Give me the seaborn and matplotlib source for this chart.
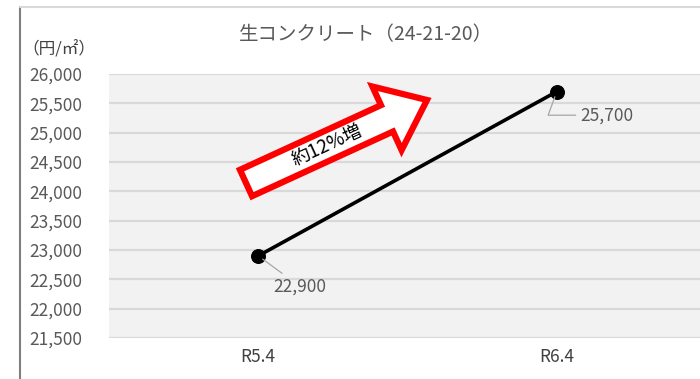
import numpy as np
import pandas as pd
import seaborn as sns
import matplotlib
matplotlib.use("Agg")
import matplotlib.pyplot as plt
import matplotlib.patches as mpatches
import matplotlib.transforms as mtransforms
from matplotlib.lines import Line2D
from matplotlib.ticker import MultipleLocator, FuncFormatter

# データ
periods = ["R5.4", "R6.4"]
prices = [22900, 25700]
title = "生コンクリート（24-21-20）"
unit_label = "（円/㎡）"
arrow_label = "約12%増"
y_min, y_max, y_step = 21500, 26000, 500

sns.set_theme(style="white")
plt.rcParams["font.family"] = ["Noto Sans CJK JP", "DejaVu Sans"]

df = pd.DataFrame({"period": periods, "price": prices})

fig = plt.figure(figsize=(7, 3.79), dpi=100)
ax = fig.add_axes([109 / 700, 1 - 338 / 379, 597 / 700, 264 / 379])
ax.set_facecolor("#f2f2f2")

sns.lineplot(data=df, x="period", y="price", ax=ax, color="black", lw=2.6,
             marker="o", markersize=10, markeredgecolor="black", sort=False)

ax.set_xlim(-0.5, 1.5)
ax.set_ylim(y_min, y_max)
ax.yaxis.set_major_locator(MultipleLocator(y_step))
ax.yaxis.set_major_formatter(FuncFormatter(lambda v, p: f"{int(v):,}"))
ax.grid(axis="y", color="#d9d9d9", lw=1.6)
ax.set_axisbelow(True)
for s in ax.spines.values():
    s.set_visible(False)
ax.set_xlabel("")
ax.set_ylabel("")
ax.tick_params(axis="y", length=0, pad=19, labelsize=12.5, labelcolor="#595959")
ax.tick_params(axis="x", length=0, pad=7, labelsize=12.5, labelcolor="#404040")

# データラベル
ax.annotate(f"{prices[0]:,}", xy=(0, prices[0]), xytext=(30, -22),
            textcoords="offset points", ha="center", va="center",
            fontsize=12.5, color="#595959",
            arrowprops=dict(arrowstyle="-", color="#a6a6a6", lw=0.9,
                            shrinkA=1, shrinkB=4))
ax.annotate(f"{prices[1]:,}", xy=(1, prices[1]), xytext=(17, -17),
            textcoords="offset points", ha="left", va="center",
            fontsize=12.5, color="#595959",
            arrowprops=dict(arrowstyle="-", color="#a6a6a6", lw=0.9,
                            connectionstyle="angle,angleA=0,angleB=70,rad=0",
                            shrinkA=1, shrinkB=4))

# 矢印
px = mtransforms.Affine2D().scale(1 / 700, -1 / 379).translate(0, 1) + fig.transFigure
arrow = mpatches.FancyArrow(246, 183, 181, -83, width=29, head_width=70,
                            head_length=44, length_includes_head=True,
                            transform=px, facecolor="white", edgecolor="#ff0000",
                            lw=4.5, joinstyle="miter")
fig.add_artist(arrow)
fig.text(327 / 700, 1 - 145 / 379, arrow_label, rotation=24.6, rotation_mode="anchor",
         ha="center", va="center", fontsize=13.5, color="black")

# タイトルと単位
fig.text(366 / 700, 1 - 35 / 379, title, ha="center", va="center",
         fontsize=14, color="#595959")
fig.text(22 / 700, 1 - 50 / 379, unit_label, ha="left", va="center",
         fontsize=12, color="#404040")

# 枠線
fig.add_artist(Line2D([20 / 700, 20 / 700], [0, 1 - 7 / 379], color="#7f7f7f", lw=1.5))
fig.add_artist(Line2D([20 / 700, 1], [1 - 7 / 379, 1 - 7 / 379], color="#d9d9d9", lw=1.5))

fig.savefig("out.png", dpi=100, facecolor="white")
